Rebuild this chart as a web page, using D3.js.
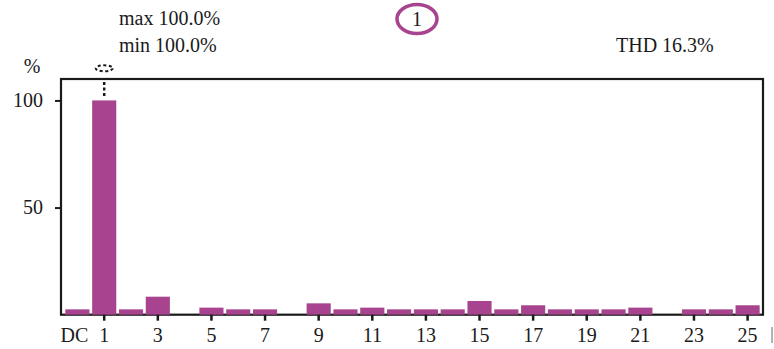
<!DOCTYPE html>
<html>
<head>
<meta charset="utf-8">
<script src="https://cdn.jsdelivr.net/npm/d3@7"></script>
<style>
  html, body { margin: 0; padding: 0; background: #fff; }
  svg { display: block; }
  text { font-family: "Liberation Serif", "DejaVu Serif", serif; fill: #1a1a1a; }
</style>
</head>
<body>
<svg id="chart" width="774" height="349"></svg>
<script>
// Harmonic spectrum: amplitude of each harmonic, % of fundamental
const harmonics = ["DC","1","2","3","4","5","6","7","8","9","10","11","12","13",
                   "14","15","16","17","18","19","20","21","22","23","24","25"];
const amplitudes = [2.5,100,2.5,8.4,0,3.3,2.5,2.5,0,5.3,2.5,3.3,2.5,2.5,
                    2.5,6.4,2.5,4.4,2.5,2.5,2.5,3.3,0,2.5,2.5,4.4];
const xTickLabels = ["DC","1","3","5","7","9","11","13","15","17","19","21","23","25"];
const yTickValues = [50, 100];
const selectedHarmonic = "1";
const maxLabel = "max 100.0%";
const minLabel = "min 100.0%";
const thdLabel = "THD 16.3%";

const barColor = "#a8448f";
const ink = "#1a1a1a";
const fontSize = 20;

const svg = d3.select("#chart");

const x = d3.scaleBand()
  .domain(harmonics)
  .range([64, 761])
  .paddingInner(0.1)
  .paddingOuter(0.05);

const y = d3.scaleLinear()
  .domain([0, 110])
  .range([314.7, 79]);

// Plot frame
svg.append("rect")
  .attr("x", 61).attr("y", y(110))
  .attr("width", 763 - 61).attr("height", y(0) - y(110))
  .attr("fill", "none")
  .attr("stroke", ink)
  .attr("stroke-width", 2.2);

// Bars
svg.append("g")
  .selectAll("rect")
  .data(harmonics.map((h, i) => ({ h, v: amplitudes[i] })).filter(d => d.v > 0))
  .join("rect")
  .attr("x", d => x(d.h))
  .attr("y", d => y(d.v))
  .attr("width", x.bandwidth())
  .attr("height", d => y(0) - y(d.v))
  .attr("fill", barColor);

// Y axis
const yAxis = svg.append("g")
  .attr("transform", "translate(61,0)")
  .call(d3.axisLeft(y).tickValues(yTickValues).tickSize(6).tickPadding(12).tickFormat(d3.format("d")));
yAxis.select(".domain").remove();
yAxis.selectAll(".tick line").attr("stroke", ink).attr("stroke-width", 2);
yAxis.selectAll(".tick text")
  .attr("font-family", "Liberation Serif, serif")
  .attr("font-size", fontSize).attr("fill", ink);

// X axis
const xAxis = svg.append("g")
  .attr("transform", `translate(0,${y(0)})`)
  .call(d3.axisBottom(x).tickValues(xTickLabels).tickSize(6).tickPadding(7));
xAxis.select(".domain").remove();
xAxis.selectAll(".tick line").attr("stroke", ink).attr("stroke-width", 2.5)
  .attr("opacity", d => d === "DC" ? 0 : 1);
xAxis.selectAll(".tick text")
  .attr("font-family", "Liberation Serif, serif")
  .attr("font-size", fontSize).attr("fill", ink)
  .attr("dx", d => d === "DC" ? -3 : 0);

// Unit label
svg.append("text").attr("x", 32).attr("y", 73)
  .attr("text-anchor", "middle").attr("font-size", fontSize).text("%");

// Cursor on the selected harmonic
const cx = x(selectedHarmonic) + x.bandwidth() / 2;
svg.append("line")
  .attr("x1", cx).attr("x2", cx)
  .attr("y1", 82).attr("y2", 97)
  .attr("stroke", ink).attr("stroke-width", 2.5)
  .attr("stroke-dasharray", "3,2.5");
svg.append("ellipse")
  .attr("cx", cx).attr("cy", 68.3)
  .attr("rx", 8.5).attr("ry", 3)
  .attr("fill", "none")
  .attr("stroke", ink).attr("stroke-width", 2)
  .attr("stroke-dasharray", "3,2.5");

// Header readouts
svg.append("text").attr("x", 119).attr("y", 25).attr("font-size", fontSize).text(maxLabel);
svg.append("text").attr("x", 119).attr("y", 52).attr("font-size", fontSize).text(minLabel);
svg.append("text").attr("x", 616).attr("y", 52).attr("font-size", fontSize).text(thdLabel);

// Selected harmonic badge
svg.append("ellipse")
  .attr("cx", 417).attr("cy", 19)
  .attr("rx", 20).attr("ry", 14.5)
  .attr("fill", "none")
  .attr("stroke", barColor).attr("stroke-width", 3.5);
svg.append("text").attr("x", 417).attr("y", 26)
  .attr("text-anchor", "middle").attr("font-size", fontSize).text(selectedHarmonic);

// Clipped marker at the right edge
svg.append("line")
  .attr("x1", 772).attr("x2", 772)
  .attr("y1", 327).attr("y2", 343)
  .attr("stroke", "#999").attr("stroke-width", 1.5);
</script>
</body>
</html>
